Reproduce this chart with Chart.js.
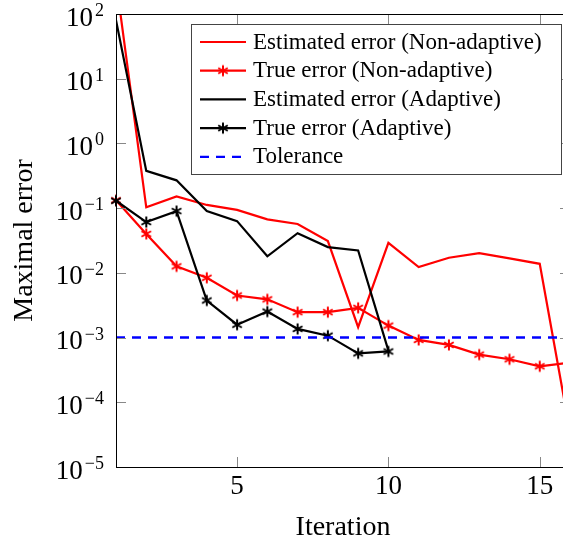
<!DOCTYPE html>
<html>
<head>
<meta charset="utf-8">
<script src="https://cdn.jsdelivr.net/npm/chart.js@4.4.1/dist/chart.umd.min.js"></script>
<style>
  html, body { margin: 0; padding: 0; background: #fff; overflow: hidden; }
  #outer { width: 563px; height: 542px; overflow: hidden; }
  #wrap { width: 572px; height: 542px; }
</style>
</head>
<body>
<div id="outer"><div id="wrap"><canvas id="grafico" width="572" height="542"></canvas></div></div>
<script>
const iterations = [1, 2, 3, 4, 5, 6, 7, 8, 9, 10, 11, 12, 13, 14, 15, 16];
const estNonAdaptive = [330, 0.103, 0.152, 0.112, 0.094, 0.067, 0.057, 0.031, 0.00145, 0.029, 0.0123, 0.0171, 0.0202, 0.0167, 0.0138, 0.000035];
const trueNonAdaptive = [0.132, 0.040, 0.0126, 0.0084, 0.00447, 0.0039, 0.00247, 0.00247, 0.00288, 0.00153, 0.00092, 0.00077, 0.000546, 0.000462, 0.00036, 0.00041];
const estAdaptive = [80, 0.376, 0.269, 0.090, 0.063, 0.018, 0.041, 0.025, 0.0222, 0.00063];
const trueAdaptive = [0.130, 0.061, 0.090, 0.00374, 0.00158, 0.00252, 0.00136, 0.00107, 0.00057, 0.00061];
const toleranceIters = [1, 16];
const tolerance = [0.001, 0.001];
const xTickValues = [5, 10, 15];
const labels = [
  'Estimated error (Non-adaptive)',
  'True error (Non-adaptive)',
  'Estimated error (Adaptive)',
  'True error (Adaptive)',
  'Tolerance'
];
const xTitle = 'Iteration';
const yTitle = 'Maximal error';

const SERIF = '"Liberation Serif", "Times New Roman", serif';

// asterisco de 6 puntas como en pgfplots
function asterisk(color) {
  const c = document.createElement('canvas');
  c.width = 14; c.height = 14;
  const g = c.getContext('2d');
  g.strokeStyle = color;
  g.lineWidth = 2;
  const r = 5.5;
  for (const ang of [90, 30, 150]) {
    const t = ang * Math.PI / 180;
    g.beginPath();
    g.moveTo(7 - r * Math.cos(t), 7 - r * Math.sin(t));
    g.lineTo(7 + r * Math.cos(t), 7 + r * Math.sin(t));
    g.stroke();
  }
  return c;
}
const redStar = asterisk('#ff0000');
const blackStar = asterisk('#000000');

const pts = (xs, ys) => ys.map((v, i) => ({ x: xs[i], y: v }));

const legendItems = [
  { color: '#ff0000', dash: [], marker: null },
  { color: '#ff0000', dash: [], marker: redStar },
  { color: '#000000', dash: [], marker: null },
  { color: '#000000', dash: [], marker: blackStar },
  { color: '#0000ff', dash: [9, 7], marker: null }
];

function decades(scale) {
  return scale.ticks.filter(t => Math.abs(Math.log10(t.value) - Math.round(Math.log10(t.value))) < 1e-9);
}

const axesPlugin = {
  id: 'axesPlugin',
  afterDatasetsDraw(chart) {
    const { ctx, chartArea: a, scales: { x, y } } = chart;
    ctx.save();
    const seg = (x1, y1, x2, y2) => { ctx.beginPath(); ctx.moveTo(x1, y1); ctx.lineTo(x2, y2); ctx.stroke(); };

    // marcas de los ejes hacia dentro
    ctx.strokeStyle = '#888';
    ctx.lineWidth = 1;
    x.ticks.forEach(t => {
      const px = Math.round(x.getPixelForValue(t.value)) + 0.5;
      seg(px, a.bottom, px, a.bottom - 10);
      seg(px, a.top, px, a.top + 10);
    });
    decades(y).forEach(t => {
      const py = Math.round(y.getPixelForValue(t.value)) + 0.5;
      seg(a.left, py, a.left + 10, py);
      seg(a.right, py, a.right - 10, py);
    });

    // marco
    ctx.strokeStyle = '#000';
    seg(a.left + 0.5, a.top + 0.5, a.right, a.top + 0.5);
    seg(a.left + 0.5, a.top, a.left + 0.5, a.bottom + 1);
    seg(a.left, a.bottom + 0.5, a.right, a.bottom + 0.5);
    seg(a.right - 0.5, a.top, a.right - 0.5, a.bottom + 1);

    // leyenda
    const bx = a.right - 9 - 370, by = a.top + 10, bw = 370, bh = 150;
    ctx.fillStyle = '#fff';
    ctx.fillRect(bx, by, bw, bh);
    ctx.strokeStyle = '#444';
    ctx.strokeRect(bx + 0.5, by + 0.5, bw, bh);
    ctx.font = `23px ${SERIF}`;
    ctx.textAlign = 'left';
    ctx.textBaseline = 'alphabetic';
    legendItems.forEach((it, i) => {
      const ry = by + 18 + i * 28.7;
      ctx.strokeStyle = it.color;
      ctx.lineWidth = 2.2;
      ctx.setLineDash(it.dash);
      seg(bx + 9, ry, bx + (it.dash.length ? 50 : 55), ry);
      ctx.setLineDash([]);
      if (it.marker) ctx.drawImage(it.marker, bx + 32 - 7, ry - 7);
      ctx.fillStyle = '#000';
      ctx.fillText(labels[i], bx + 62, ry + 6.6);
    });
    ctx.restore();
  },
  afterDraw(chart) {
    const { ctx, chartArea: a, scales: { x, y } } = chart;
    ctx.save();
    ctx.fillStyle = '#000';
    ctx.textBaseline = 'alphabetic';

    // etiquetas eje x
    ctx.font = `27px ${SERIF}`;
    ctx.textAlign = 'center';
    x.ticks.forEach(t => {
      ctx.fillText(String(t.value), x.getPixelForValue(t.value), a.bottom + 27);
    });

    // etiquetas eje y: 10^n
    decades(y).forEach(t => {
      const py = y.getPixelForValue(t.value);
      const e = Math.round(Math.log10(t.value));
      const exp = (e < 0 ? '\u2212' : '') + Math.abs(e);
      ctx.font = `18px ${SERIF}`;
      const ew = ctx.measureText(exp).width;
      const xEnd = a.left - 12;
      ctx.textAlign = 'left';
      ctx.fillText(exp, xEnd - ew, py + 2);
      ctx.font = `27px ${SERIF}`;
      ctx.textAlign = 'right';
      ctx.fillText('10', xEnd - ew - 2, py + 11.5);
    });

    // titulos
    ctx.font = `28px ${SERIF}`;
    ctx.textAlign = 'center';
    ctx.fillText(xTitle, 343, 535);
    ctx.save();
    ctx.translate(32, (a.top + a.bottom) / 2);
    ctx.rotate(-Math.PI / 2);
    ctx.fillText(yTitle, 0, 0);
    ctx.restore();
    ctx.restore();
  }
};

const chart = new Chart(document.getElementById('grafico').getContext('2d'), {
  type: 'line',
  data: {
    datasets: [
      {
        label: labels[0],
        data: pts(iterations, estNonAdaptive),
        borderColor: '#ff0000',
        borderWidth: 2.2,
        pointRadius: 0,
        tension: 0,
        clip: 0,
        order: 4
      },
      {
        label: labels[1],
        data: pts(iterations, trueNonAdaptive),
        borderColor: '#ff0000',
        borderWidth: 2.2,
        pointStyle: redStar,
        pointRadius: 5,
        tension: 0,
        clip: { left: 8, top: 0, right: 0, bottom: 0 },
        order: 3
      },
      {
        label: labels[2],
        data: pts(iterations, estAdaptive),
        borderColor: '#000000',
        borderWidth: 2.2,
        pointRadius: 0,
        tension: 0,
        clip: 0,
        order: 2
      },
      {
        label: labels[3],
        data: pts(iterations, trueAdaptive),
        borderColor: '#000000',
        borderWidth: 2.2,
        pointStyle: blackStar,
        pointRadius: 5,
        tension: 0,
        clip: { left: 8, top: 0, right: 0, bottom: 0 },
        order: 1
      },
      {
        label: labels[4],
        data: pts(toleranceIters, tolerance),
        borderColor: '#0000ff',
        borderWidth: 2.4,
        borderDash: [9, 7],
        pointRadius: 0,
        tension: 0,
        clip: 0,
        order: 0
      }
    ]
  },
  options: {
    responsive: false,
    animation: false,
    devicePixelRatio: 1,
    layout: { autoPadding: false, padding: { top: 14, right: 2, left: 0, bottom: 0 } },
    plugins: {
      legend: { display: false },
      tooltip: { enabled: false }
    },
    scales: {
      x: {
        type: 'linear',
        min: 1,
        max: 16,
        grid: { display: false },
        border: { display: false },
        ticks: { display: false },
        afterBuildTicks: s => { s.ticks = xTickValues.map(v => ({ value: v })); },
        afterFit: s => { s.height = 75; }
      },
      y: {
        type: 'logarithmic',
        min: 1e-5,
        max: 1e2,
        grid: { display: false },
        border: { display: false },
        ticks: { display: false },
        afterFit: s => { s.width = 116; }
      }
    }
  },
  plugins: [axesPlugin]
});
</script>
</body>
</html>
